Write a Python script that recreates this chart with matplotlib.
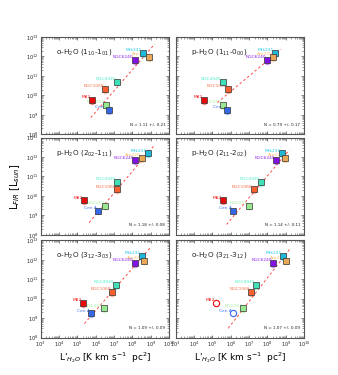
import numpy as np
import matplotlib
matplotlib.use("Agg")
import matplotlib.pyplot as plt
from matplotlib.ticker import LogLocator, NullFormatter, FixedLocator
import matplotlib.transforms as mtransforms

galaxies = ["Mrk231", "Arp220", "NGC6240", "NGC4945", "NGC1068", "M82", "NGC253", "Cen A"]
colors = ["#1fb8d8", "#e8a858", "#8410e8", "#40e0b8", "#f86030", "#e80808", "#98e890", "#3468e8"]
label_colors = ["#20c8e8", "#f8c070", "#9020f0", "#50f0c8", "#f87048", "#f01010", "#a8f0a0", "#4070f0"]

log_lfir = [12.18, 11.96, 11.82, 10.71, 10.33, 9.77, 9.50, 9.24]

titles = [
    r"o-H$_2$O (1$_{10}$-1$_{01}$)",
    r"p-H$_2$O (1$_{11}$-0$_{00}$)",
    r"p-H$_2$O (2$_{02}$-1$_{11}$)",
    r"p-H$_2$O (2$_{11}$-2$_{02}$)",
    r"o-H$_2$O (3$_{12}$-3$_{03}$)",
    r"o-H$_2$O (3$_{21}$-3$_{12}$)",
]

log_lh2o_p1 = [8.55, 8.90, 8.11, 7.18, 6.50, 5.82, 6.55, 6.70]
log_lh2o_p2 = [8.43, 8.32, 7.97, 5.55, 5.87, 4.55, 5.55, 5.79]
log_lh2o_p3 = [8.82, 8.51, 8.16, 7.18, 7.18, 5.38, 6.52, 6.11]
log_lh2o_p4 = [8.79, 8.93, 8.48, 7.66, 7.24, 5.55, 6.97, 6.13]
log_lh2o_p5 = [8.53, 8.62, 8.11, 7.10, 6.88, 5.32, 6.46, 5.73]
log_lh2o_p6 = [8.83, 9.03, 8.30, 7.40, 7.10, 5.22, 6.69, 6.11]
panels_x = [log_lh2o_p1, log_lh2o_p2, log_lh2o_p3, log_lh2o_p4, log_lh2o_p5, log_lh2o_p6]

open_p6 = [False, False, False, False, False, True, False, True]
open_flags = [[False] * 8] * 5 + [open_p6]

fit_slope = [1.086, 0.790, 1.118, 1.120, 1.087, 1.212]
fit_intercept = [2.637, 5.467, 2.325, 2.068, 2.872, 1.378]
fit_xmin = [5.73, 5.27, 5.64, 5.77, 5.38, 5.86]
fit_xmax = [9.21, 8.74, 9.21, 9.19, 8.95, 9.26]
fit_text = ["N = 1.11 +/- 0.21", "N = 0.79 +/- 0.17", "N = 1.18 +/- 0.08",
            "N = 1.14 +/- 0.11", "N = 1.09 +/- 0.09", "N = 1.07 +/- 0.09"]

fig = plt.figure(figsize=(3.38, 3.75), dpi=100)
W, H = 338.0, 375.0
col_left = [40.7, 175.7]
col_w = 128.5
row_top = [37.0, 137.5, 240.3]
row_h = 97.3

frame_col = "#555555"
for i in range(6):
    r, c = divmod(i, 2)
    ax = fig.add_axes([col_left[c] / W, 1 - (row_top[r] + row_h) / H, col_w / W, row_h / H])
    ax.set_xscale("log")
    ax.set_yscale("log")
    ax.set_xlim(1e3, 1e10)
    ax.set_ylim(1e8, 1e13)
    for s in ax.spines.values():
        s.set_color(frame_col)
        s.set_linewidth(0.8)
    ax.xaxis.set_major_locator(FixedLocator([10.0 ** k for k in range(3, 11)]))
    ax.yaxis.set_major_locator(FixedLocator([10.0 ** k for k in range(8, 14)]))
    ax.xaxis.set_minor_locator(LogLocator(base=10, subs=np.arange(2, 10), numticks=20))
    ax.yaxis.set_minor_locator(LogLocator(base=10, subs=np.arange(2, 10), numticks=20))
    ax.xaxis.set_minor_formatter(NullFormatter())
    ax.yaxis.set_minor_formatter(NullFormatter())
    ax.tick_params(which="both", direction="in", top=True, right=True,
                   labelsize=3.6, colors=frame_col, labelcolor="#222222", pad=1.5)
    ax.tick_params(which="major", length=2.5, width=0.5)
    ax.tick_params(which="minor", length=1.3, width=0.4)
    if c == 1:
        ax.tick_params(labelleft=False)
    if r < 2:
        ax.tick_params(labelbottom=False)
    else:
        ax.set_xlabel(r"L'$_{H_2O}$ [K km s$^{-1}$  pc$^2$]", fontsize=6.5, labelpad=1)

    xs = 10.0 ** np.array(panels_x[i])
    ys = 10.0 ** np.array(log_lfir)

    # fit line
    lx = np.linspace(fit_xmin[i], fit_xmax[i], 50)
    ly = fit_slope[i] * lx + fit_intercept[i]
    ax.plot(10 ** lx, 10 ** ly, ls=(0, (2.5, 2.5)), color="#ff4a4a", lw=0.7, zorder=2)

    shadow = ax.transData + mtransforms.ScaledTranslation(0, -1.3 / 72, fig.dpi_scale_trans)
    for g, name in enumerate(galaxies):
        if open_flags[i][g]:
            ax.plot(xs[g], ys[g], marker="o", ms=4.5, mfc="white", mec=colors[g], mew=0.8, zorder=4)
        else:
            ax.plot(xs[g], ys[g], marker="o", ms=4.0, mfc=colors[g], mec="none", alpha=0.45,
                    transform=shadow, zorder=3)
            ax.plot(xs[g], ys[g], marker="s", ms=4.2, mfc=colors[g], mec="#333333", mew=0.5, zorder=4)
        ax.annotate(name, (xs[g], ys[g]), xytext=(-0.8, 0.6), textcoords="offset points",
                    ha="right", va="bottom", fontsize=3.2, color=label_colors[g], zorder=3)

    ax.text(0.12, 0.83, titles[i], transform=ax.transAxes, fontsize=5.2, color="#222222")
    ax.text(0.97, 0.08, fit_text[i], transform=ax.transAxes, fontsize=3.0,
            ha="right", va="bottom", color="#222222")

fig.text(15 / W, 1 - 187 / H, r"L$_{FIR}$ [L$_{sun}$]", rotation=90, fontsize=7,
         ha="center", va="center")

fig.savefig("out.png", dpi=100)
